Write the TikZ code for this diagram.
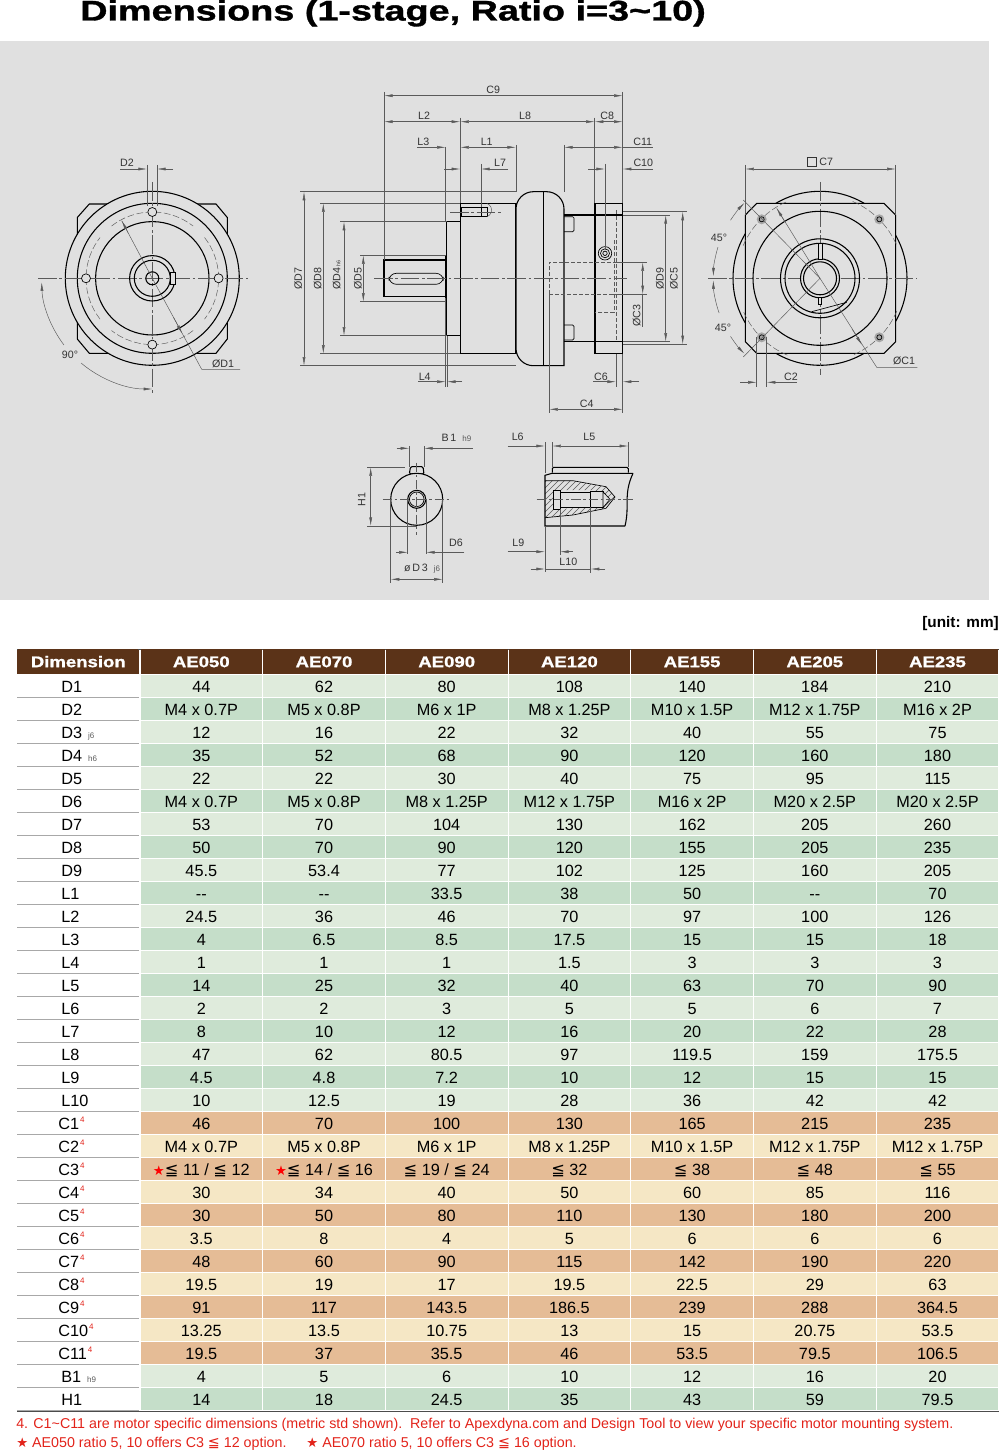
\documentclass[tikz,border=0pt]{standalone}
\usepackage{fontspec}
\setmainfont{Liberation Sans}
\newfontfamily\symfont{DejaVu Sans}
\newfontfamily\widefont[FakeStretch=1.2,FakeBold=1]{Liberation Sans Bold}
\newfontfamily\titlefont[FakeStretch=1.33,FakeBold=1.2]{Liberation Sans Bold}
\usetikzlibrary{arrows.meta}
\definecolor{panelgrey}{HTML}{E0E0E0}
\definecolor{headbrown}{HTML}{5B3318}
\definecolor{green1}{HTML}{DFEBDC}
\definecolor{green0}{HTML}{C5DEC9}
\definecolor{orange1}{HTML}{F5E7C5}
\definecolor{orange0}{HTML}{E5BC96}
\definecolor{rulegrey}{HTML}{A8A8A8}
\definecolor{linegrey}{HTML}{5A5A5A}
\definecolor{notered}{HTML}{E2231A}
\newcommand{\lqsym}{{\symfont\symbol{"2266}}}
\newcommand{\redstar}{{\color{red}\symfont\fontsize{10}{10}\selectfont\symbol{"2605}}}
\newcommand{\fnm}{\rlap{\raisebox{5pt}{\hspace{0.8pt}\color{notered}\fontsize{6}{6}\selectfont 4}}}
\newcommand{\tolsfx}[1]{\rlap{\color{linegrey}\hspace{4.5pt}\fontsize{6}{6}\selectfont #1}}
\tikzset{
  part/.style={black,line width=0.8pt},
  thin part/.style={black,line width=0.5pt},
  dimline/.style={linegrey,line width=0.35pt},
  tip/.style={-{Latex[length=6.5pt,width=2.2pt]}},
  tips/.style={{Latex[length=6.5pt,width=2.2pt]}-{Latex[length=6.5pt,width=2.2pt]}},
  axis/.style={linegrey,line width=0.35pt,dash pattern=on 14pt off 2pt on 2pt off 2pt},
  hidden/.style={linegrey,line width=0.35pt,dash pattern=on 3pt off 1.5pt},
  dimlabel/.style={text=black!80,inner sep=0pt,font=\fontsize{8}{8}\selectfont},
  cell/.style={inner sep=0pt,minimum width=91.2pt,minimum height=16pt,text height=9pt,text depth=0pt,font=\fontsize{12.2}{12.2}\selectfont},
  headcell/.style={fill=headbrown,text=white,inner sep=0pt,minimum width=91.2pt,minimum height=18.4pt,text height=8.5pt,text depth=0pt,font=\widefont\fontsize{11.6}{11.6}\selectfont},
  rowlabel/.style={anchor=west,inner sep=0pt,text height=9pt,text depth=0pt,font=\fontsize{12.2}{12.2}\selectfont},
  note/.style={anchor=west,inner sep=0pt,text=notered,font=\fontsize{10.7}{10.7}\selectfont}
}
\begin{document}
\begin{tikzpicture}[x=0.75pt,y=0.75pt,yscale=-1,xscale=1]
\useasboundingbox (0,0) rectangle (1000,1452);
\node[anchor=base west,inner sep=0pt,font=\titlefont\fontsize{21.3}{21.3}\selectfont] (title) at (80,20.5) {Dimensions (1-stage, Ratio i=3\textasciitilde10)};
\fill[panelgrey] (0,41) rectangle (989,600);

% left view
\coordinate (lc) at (152.3,278.3);
\draw[part,fill=panelgrey] (77.3,217.5) -- (89.3,204) -- (216,204) -- (227.3,217.5) -- (227.3,339) -- (216,353.3) -- (89.3,353.3) -- (77.3,339) -- cycle;
\draw[part,fill=panelgrey] (lc) circle[radius=87];
\draw[part] (lc) circle[radius=75];
\draw[part] (lc) circle[radius=56.7];
\foreach \a in {20,70,110,160,200,250,290,340}
  \draw[axis,dash pattern=on 5pt off 2pt] (lc) ++(\a-18:66.3) arc[start angle=\a-18,end angle=\a+18,radius=66.3];
\draw[axis] (38,278.3) -- (248,278.3);
\draw[axis] (152.3,182) -- (152.3,393);
\foreach \a in {0,90,180,270}
  \draw[thin part,fill=panelgrey] (lc) ++(\a:66.3) circle[radius=4.5];
\draw[part] (lc) circle[radius=22.7];
\draw[part] (lc) circle[radius=18];
\draw[thin part,fill=panelgrey] (170,272) rectangle (175,284);
\draw[part] (lc) circle[radius=6.5];
\draw[dimline] (147,165) -- (147,206);
\draw[dimline] (157,165) -- (157,206);
\draw[dimline,tip] (120,169) -- (147,169);
\draw[dimline,tip] (173,169) -- (157,169);
\node[dimlabel] (labD2) at (127,163) {D2};
\draw[dimline,tip] (lc) ++(143:110.7) arc[start angle=143,end angle=178,radius=110.7];
\draw[dimline,tip] (lc) ++(130:110.7) arc[start angle=130,end angle=90,radius=110.7];
\node[dimlabel] (lab90) at (70,355) {90°};
\draw[dimline] (121.7,220.7) -- (lc) -- (201.7,369.3) -- (240,369.3);
\draw[dimline,tip] (128,232.5) -- (121.7,220.7);
\draw[dimline,tip] (173.5,317.3) -- (182.3,333.7);
\node[dimlabel] (labD1) at (223,364) {ØD1};

% front view
\draw[part] (445.7,260) -- (384,260) -- (384,296.7) -- (445.7,296.7);
\draw[thin part,rounded corners=5.5pt] (389,273.3) rectangle (443.3,284.3);
\draw[part] (445.7,255.3) -- (445.7,301.7);
\draw[part] (446.7,221.7) rectangle (460.3,335.7);
\draw[part] (460.3,203.3) rectangle (516,353.7);
\draw[part,rounded corners=13pt,fill=panelgrey] (516,278) -- (516,191.7) -- (564,191.7) [sharp corners] -- (564,365.7) [rounded corners=13pt] -- (516,365.7) -- cycle;
\draw[part] (543.3,191.7) -- (543.3,365.7);
\draw[part] (564,215) -- (595,215);
\draw[part] (564,341.7) -- (595,341.7);
\draw[thin part,rounded corners=1pt] (564,216.7) -- (574,216.7) -- (574,231.7) -- (564,231.7);
\draw[thin part,rounded corners=1pt] (564,325) -- (574,325) -- (574,340) -- (564,340);
\draw[part] (595,203.3) rectangle (622.7,353.7);
\draw[part] (595,215) -- (622.7,215);
\draw[part] (595,341.7) -- (622.7,341.7);
\draw[part] (461,207.3) rectangle (487.3,216.7);
\draw[thin part] (481,207.3) -- (481,216.7);
\draw[dimline] (487,203.5) arc[start angle=-70,end angle=70,radius=7];
\draw[axis] (450,212) -- (501,212);
\draw[thin part] (605,253.3) circle[radius=6.7];
\draw[thin part] (605,253.3) circle[radius=4.5];
\draw[thin part] (605,253.3) circle[radius=2.2];
\draw[axis] (374,278.3) -- (626.7,278.3);
\draw[hidden] (549.3,294.3) -- (549.3,262.3) -- (616,262.3);
\draw[hidden] (549.3,294.3) -- (616,294.3);
\draw[hidden] (616,210) -- (616,341.7);
\draw[hidden] (614,240) -- (614,312.3) -- (595,312.3);
% front view dimensions
\draw[dimline] (384,92) -- (384,260);
\draw[dimline] (622.7,92) -- (622.7,203.3);
\draw[dimline] (460.3,117.7) -- (460.3,203.3);
\draw[dimline] (594.7,117.7) -- (594.7,203.3);
\draw[dimline] (445.7,147) -- (445.7,222);
\draw[dimline] (516,145) -- (516,192);
\draw[dimline] (564,145) -- (564,192);
\draw[dimline] (481,164) -- (481,207);
\draw[dimline] (605,164) -- (605,250);
\draw[dimline] (445.7,298) -- (445.7,386.7);
\draw[dimline] (447,336) -- (447,386.7);
\draw[dimline] (616,353.7) -- (616,386.7);
\draw[dimline] (622.7,353.7) -- (622.7,413);
\draw[dimline] (549.3,294.3) -- (549.3,413);
\draw[dimline,tips] (384,95.7) -- (622.7,95.7);
\node[dimlabel] (labC9) at (493.3,90) {C9};
\draw[dimline,tips] (384,121.7) -- (460.3,121.7);
\draw[dimline,tips] (460.3,121.7) -- (594.7,121.7);
\draw[dimline,tips] (594.7,121.7) -- (622.7,121.7);
\node[dimlabel] (labL2) at (424,116) {L2};
\node[dimlabel] (labL8) at (525,116) {L8};
\node[dimlabel] (labC8) at (607.3,116) {C8};
\draw[dimline,tip] (417,147.3) -- (445.7,147.3);
\draw[dimline,tips] (460.3,147.3) -- (516,147.3);
\node[dimlabel] (labL3) at (423.3,142) {L3};
\node[dimlabel] (labL1) at (486.7,142) {L1};
\draw[dimline,tips] (564,147.3) -- (622.7,147.3);
\draw[dimline] (622.7,147.3) -- (653,147.3);
\node[dimlabel] (labC11) at (642.7,142) {C11};
\draw[dimline,tip] (444,169) -- (460.3,169);
\draw[dimline,tip] (508,169) -- (481,169);
\node[dimlabel] (labL7) at (500,162.7) {L7};
\draw[dimline,tip] (588,169) -- (605,169);
\draw[dimline,tip] (653,169) -- (622.7,169);
\node[dimlabel] (labC10) at (643.3,162.7) {C10};
% left side diameters
\draw[dimline] (300,191.7) -- (516,191.7);
\draw[dimline] (300,365.7) -- (516,365.7);
\draw[dimline] (320,203.3) -- (460.3,203.3);
\draw[dimline] (320,353.7) -- (460.3,353.7);
\draw[dimline] (340,221.7) -- (446.7,221.7);
\draw[dimline] (340,335.7) -- (446.7,335.7);
\draw[dimline] (360,255.3) -- (445.7,255.3);
\draw[dimline] (360,301.7) -- (445.7,301.7);
\draw[dimline,tips] (304,191.7) -- (304,365.7);
\draw[dimline,tips] (323.3,203.3) -- (323.3,353.7);
\draw[dimline,tips] (344,221.7) -- (344,335.7);
\draw[dimline,tips] (363.3,255.3) -- (363.3,301.7);
\node[dimlabel,rotate=90] (labD7) at (298.3,279) {ØD7};
\node[dimlabel,rotate=90] (labD8) at (317.7,279) {ØD8};
\node[dimlabel,rotate=90] (labD4) at (336.7,279) {ØD4\rlap{\hspace{1.5pt}\fontsize{4}{4}\selectfont h6}};
\node[dimlabel,rotate=90] (labD5) at (358,279) {ØD5};
% right side diameters
\draw[dimline] (613,262.3) -- (646.7,262.3);
\draw[dimline] (613,294.3) -- (646.7,294.3);
\draw[dimline] (622.7,215) -- (670,215);
\draw[dimline] (622.7,341.7) -- (670,341.7);
\draw[dimline] (622.7,211.7) -- (686.7,211.7);
\draw[dimline] (622.7,344.3) -- (686.7,344.3);
\draw[dimline,tips] (642.7,262.3) -- (642.7,294.3);
\draw[dimline] (642.7,294.3) -- (642.7,327);
\draw[dimline,tips] (665.7,215) -- (665.7,341.7);
\draw[dimline,tips] (682.7,211.7) -- (682.7,344.3);
\node[dimlabel,rotate=90] (labC3) at (636.7,316) {ØC3};
\node[dimlabel,rotate=90] (labD9) at (660,279) {ØD9};
\node[dimlabel,rotate=90] (labC5) at (674,279) {ØC5};
% below
\draw[dimline,tip] (418,381.7) -- (445.7,381.7);
\draw[dimline,tip] (462,381.7) -- (447,381.7);
\node[dimlabel] (labL4) at (424.7,376.7) {L4};
\draw[dimline,tip] (593,381.7) -- (616,381.7);
\draw[dimline,tip] (639,381.7) -- (622.7,381.7);
\node[dimlabel] (labC6) at (601,376.7) {C6};
\draw[dimline,tips] (549.3,409.3) -- (622.7,409.3);
\node[dimlabel] (labC4) at (586.7,404) {C4};

% right view
\coordinate (rc) at (820,278.3);
\draw[part] (rc) circle[radius=87];
\draw[part,fill=panelgrey] (745.3,215) -- (756.7,203.3) -- (884,203.3) -- (895.7,215) -- (895.7,341.7) -- (884,353.3) -- (756.7,353.3) -- (745.3,341.7) -- cycle;
\foreach \a in {45,135,225,315}
  \draw[axis,dash pattern=on 5pt off 2pt] (rc) ++(\a-22:83.5) arc[start angle=\a-22,end angle=\a+22,radius=83.5];
\draw[axis] (708,278.3) -- (917,278.3);
\draw[axis] (820,182) -- (820,375);
\draw[part] (rc) circle[radius=67];
\foreach \px/\py in {761.7/219.3,879.3/219.3,761.7/337.3,879.3/337.3} {
  \fill[black!35] (\px,\py) circle[radius=5];
  \draw[thin part] (\px,\py) circle[radius=2.5];
}
\draw[part] (rc) circle[radius=39.5];
\draw[part] (rc) circle[radius=35];
\draw[part,fill=panelgrey] (rc) circle[radius=19.5];
\draw[part] (rc) circle[radius=16.5];
\draw[thin part,fill=panelgrey] (818,243.3) rectangle (822,259);
\draw[thin part,fill=panelgrey] (818.5,297) rectangle (821.5,304);
\draw[thin part] (811.7,311.7) -- (846.7,302.3);
\draw[dimline] (745.3,165) -- (745.3,215);
\draw[dimline] (895.7,165) -- (895.7,215);
\draw[dimline,tips] (745.3,169) -- (895.7,169);
\node[dimlabel] (labC7) at (820,162) {\raisebox{-0.5pt}{\fboxrule=0.3pt\fboxsep=0pt\fbox{\rule{0pt}{6.5pt}\rule{6.5pt}{0pt}}} C7};
\draw[dimline] (743.3,200) -- (rc) -- (743.3,357);
\draw[dimline,tip] (rc) ++(197:106.7) arc[start angle=197,end angle=181,radius=106.7];
\draw[dimline,tip] (rc) ++(213:106.7) arc[start angle=213,end angle=225,radius=106.7];
\draw[dimline,tip] (rc) ++(161:106.7) arc[start angle=161,end angle=179,radius=106.7];
\draw[dimline,tip] (rc) ++(147:106.7) arc[start angle=147,end angle=135,radius=106.7];
\node[dimlabel] (lab45a) at (719,238) {45°};
\node[dimlabel] (lab45b) at (723,328) {45°};
\draw[dimline] (776.7,208.3) -- (rc) -- (876.7,367.3) -- (917.3,367.3);
\draw[dimline,tip] (785,222) -- (776.7,208.3);
\draw[dimline,tip] (852,329) -- (862,345);
\node[dimlabel] (labC1) at (904,361) {ØC1};
\draw[dimline] (756.7,337) -- (756.7,386.7);
\draw[dimline] (766.7,337) -- (766.7,386.7);
\draw[dimline,tip] (740,382.3) -- (756.7,382.3);
\draw[dimline,tip] (796.7,382.3) -- (766.7,382.3);
\node[dimlabel] (labC2) at (791,377) {C2};

% shaft end view
\coordinate (sc) at (416.7,499.3);
\draw[part,rounded corners=1pt,fill=panelgrey] (409.3,474) -- (410.5,466.7) -- (423,466.7) -- (424,474) -- cycle;
\draw[part,fill=panelgrey] (sc) circle[radius=26];
\draw[part] (sc) circle[radius=9];
\draw[thin part] (sc) circle[radius=7.3];
\draw[axis,dash pattern=on 7pt off 2pt on 2pt off 2pt] (382.7,499.3) -- (451.7,499.3);
\draw[axis,dash pattern=on 7pt off 2pt on 2pt off 2pt] (416.7,462.7) -- (416.7,535);
\draw[dimline] (409.3,446) -- (409.3,467);
\draw[dimline] (424,446) -- (424,467);
\draw[dimline,tip] (396.7,448.3) -- (409.3,448.3);
\draw[dimline,tip] (472.7,448.3) -- (424,448.3);
\node[dimlabel] (labB1) at (449,438.3) {B\,1\tolsfx{h9}};
\draw[dimline] (367,467.3) -- (405,467.3);
\draw[dimline] (367,526) -- (416.7,526);
\draw[dimline,tips] (370.7,467.3) -- (370.7,526);
\node[dimlabel,rotate=90] (labH1) at (361.7,499.3) {H1};
\draw[dimline] (407.7,500) -- (407.7,554);
\draw[dimline] (426,500) -- (426,554);
\draw[dimline,tip] (396,552.3) -- (407.7,552.3);
\draw[dimline,tip] (464.3,552.3) -- (426,552.3);
\node[dimlabel] (labD6) at (456,542.7) {D6};
\draw[dimline] (390.7,499.3) -- (390.7,583);
\draw[dimline] (442.7,499.3) -- (442.7,583);
\draw[dimline,tips] (390.7,579.3) -- (442.7,579.3);
\node[dimlabel] (labD3) at (416,569) {ø\,D\,3\tolsfx{j6}};

% shaft section
\draw[part,rounded corners=1pt] (552.3,472.7) -- (552.3,467.3) -- (628.3,467.3) -- (628.3,472.7);
\begin{scope}[even odd rule]
  \clip (545,480.7) -- (573,480.7) -- (606,486.7) -- (615,497) -- (606,508.3) -- (573,515) -- (545,517.7) -- cycle
    (553.3,490) -- (590,490) -- (603,491.7) -- (610,499.3) -- (603,507.7) -- (590,507.7) -- (553.3,509.3) -- cycle;
  \foreach \hx in {495,501,...,615}
    \draw[linegrey,line width=0.3pt] (\hx,520) -- (\hx+42,478);
\end{scope}
\draw[thin part] (545,480.7) -- (573,480.7) -- (606,486.7) -- (615,497) -- (606,508.3) -- (573,515) -- (545,517.7);
\draw[part] (633,473.3) -- (552,473.3) -- (545,475.3) -- (545,526) -- (625,526);
\draw[part] (633,473.3) .. controls (623,495) and (630,505) .. (625,526);
\draw[thin part,fill=panelgrey] (553.3,490) rectangle (560,509.3);
\draw[thin part,fill=panelgrey] (560,492.7) rectangle (590.7,507.3);
\draw[thin part,fill=panelgrey] (590.7,491.7) rectangle (603,507.7);
\draw[thin part,fill=panelgrey] (603,491.7) -- (610,499.3) -- (603,507.7) -- cycle;
\draw[axis,dash pattern=on 7pt off 2pt on 2pt off 2pt] (536.7,499.3) -- (633.3,499.3);
\draw[dimline] (545,442) -- (545,473);
\draw[dimline] (552.3,442) -- (552.3,467);
\draw[dimline] (628.3,442) -- (628.3,467);
\draw[dimline,tip] (507.7,446) -- (545,446);
\draw[dimline,tips] (552.3,446) -- (628.3,446);
\node[dimlabel] (labL6) at (517.7,437.3) {L6};
\node[dimlabel] (labL5) at (589.3,437.3) {L5};
\draw[dimline] (545,526) -- (545,571.7);
\draw[dimline] (560,509) -- (560,555);
\draw[dimline] (590.7,507) -- (590.7,573);
\draw[dimline,tip] (507.7,551.7) -- (545,551.7);
\draw[dimline,tip] (573,551.7) -- (560,551.7);
\node[dimlabel] (labL9) at (518.3,542.7) {L9};
\draw[dimline,tip] (530.7,569) -- (545,569);
\draw[dimline,tip] (605,569) -- (590.7,569);
\draw[dimline] (545,569) -- (590.7,569);
\node[dimlabel] (labL10) at (568.3,561.7) {L10};

% table
\node[anchor=base east,inner sep=0pt,font=\bfseries\fontsize{11.5}{11.5}\selectfont] (unit) at (999,627) {[unit: mm]};
\fill[headbrown] (17,649) rectangle (139,674);
\draw[black!70,line width=0.6pt] (17,649) -- (999,649);
\node[headcell,minimum width=90pt] (headdim) at (78.3,661.5) {Dimension};
\foreach \hname [count=\c] in {AE050,AE070,AE090,AE120,AE155,AE205,AE235}
  \node[headcell] (head\c) at (201.3+122.7*\c-122.7,661.5) {\hname};
\foreach \lab/\vals [count=\r] in {
  D1/{44,62,80,108,140,184,210},
  D2/{M4 x 0.7P,M5 x 0.8P,M6 x 1P,M8 x 1.25P,M10 x 1.5P,M12 x 1.75P,M16 x 2P},
  D3\tolsfx{j6}/{12,16,22,32,40,55,75},
  D4\tolsfx{h6}/{35,52,68,90,120,160,180},
  D5/{22,22,30,40,75,95,115},
  D6/{M4 x 0.7P,M5 x 0.8P,M8 x 1.25P,M12 x 1.75P,M16 x 2P,M20 x 2.5P,M20 x 2.5P},
  D7/{53,70,104,130,162,205,260},
  D8/{50,70,90,120,155,205,235},
  D9/{45.5,53.4,77,102,125,160,205},
  L1/{-{}-,-{}-,33.5,38,50,-{}-,70},
  L2/{24.5,36,46,70,97,100,126},
  L3/{4,6.5,8.5,17.5,15,15,18},
  L4/{1,1,1,1.5,3,3,3},
  L5/{14,25,32,40,63,70,90},
  L6/{2,2,3,5,5,6,7},
  L7/{8,10,12,16,20,22,28},
  L8/{47,62,80.5,97,119.5,159,175.5},
  L9/{4.5,4.8,7.2,10,12,15,15},
  L10/{10,12.5,19,28,36,42,42},
  C1\fnm/{46,70,100,130,165,215,235},
  C2\fnm/{M4 x 0.7P,M5 x 0.8P,M6 x 1P,M8 x 1.25P,M10 x 1.5P,M12 x 1.75P,M12 x 1.75P},
  C3\fnm/{\redstar\lqsym{} 11 / \lqsym{} 12,\redstar\lqsym{} 14 / \lqsym{} 16,\lqsym{} 19 / \lqsym{} 24,\lqsym{} 32,\lqsym{} 38,\lqsym{} 48,\lqsym{} 55},
  C4\fnm/{30,34,40,50,60,85,116},
  C5\fnm/{30,50,80,110,130,180,200},
  C6\fnm/{3.5,8,4,5,6,6,6},
  C7\fnm/{48,60,90,115,142,190,220},
  C8\fnm/{19.5,19,17,19.5,22.5,29,63},
  C9\fnm/{91,117,143.5,186.5,239,288,364.5},
  C10\fnm/{13.25,13.5,10.75,13,15,20.75,53.5},
  C11\fnm/{19.5,37,35.5,46,53.5,79.5,106.5},
  B1\tolsfx{h9}/{4,5,6,10,12,16,20},
  H1/{14,18,24.5,35,43,59,79.5}} {
  \pgfmathsetmacro\rowy{686+23*(\r-1)}
  \pgfmathtruncatemacro\oddrow{mod(\r,2)}
  \ifnum\r>19 \ifnum\r<31 \def\pal{orange}\def\labx{58}\else\def\pal{green}\def\labx{61}\fi\else\def\pal{green}\def\labx{61}\fi
  \node[rowlabel] (lab\r) at (\labx,\rowy) {\lab};
  \draw[rulegrey,line width=0.9pt] (17,\rowy+11.5) -- (139,\rowy+11.5);
  \foreach \val [count=\c] in \vals
    \node[cell,fill=\pal\oddrow] (cell\r-\c) at (201.3+122.7*\c-122.7,\rowy) {\val};
}
\draw[black!70,line width=0.8pt] (17,1411.5) -- (999,1411.5);
\node[note] (note1) at (16,1425) {4. C1\textasciitilde C11 are motor specific dimensions (metric std shown).\ \ Refer to Apexdyna.com and Design Tool to view your specific motor mounting system.};
\node[note] (note2) at (16,1444) {{\symfont\fontsize{10}{10}\selectfont\symbol{"2605}} AE050 ratio 5, 10 offers C3 \lqsym{} 12 option.\ \ \ \ \ {\symfont\fontsize{10}{10}\selectfont\symbol{"2605}} AE070 ratio 5, 10 offers C3 \lqsym{} 16 option.};
\end{tikzpicture}
\end{document}
